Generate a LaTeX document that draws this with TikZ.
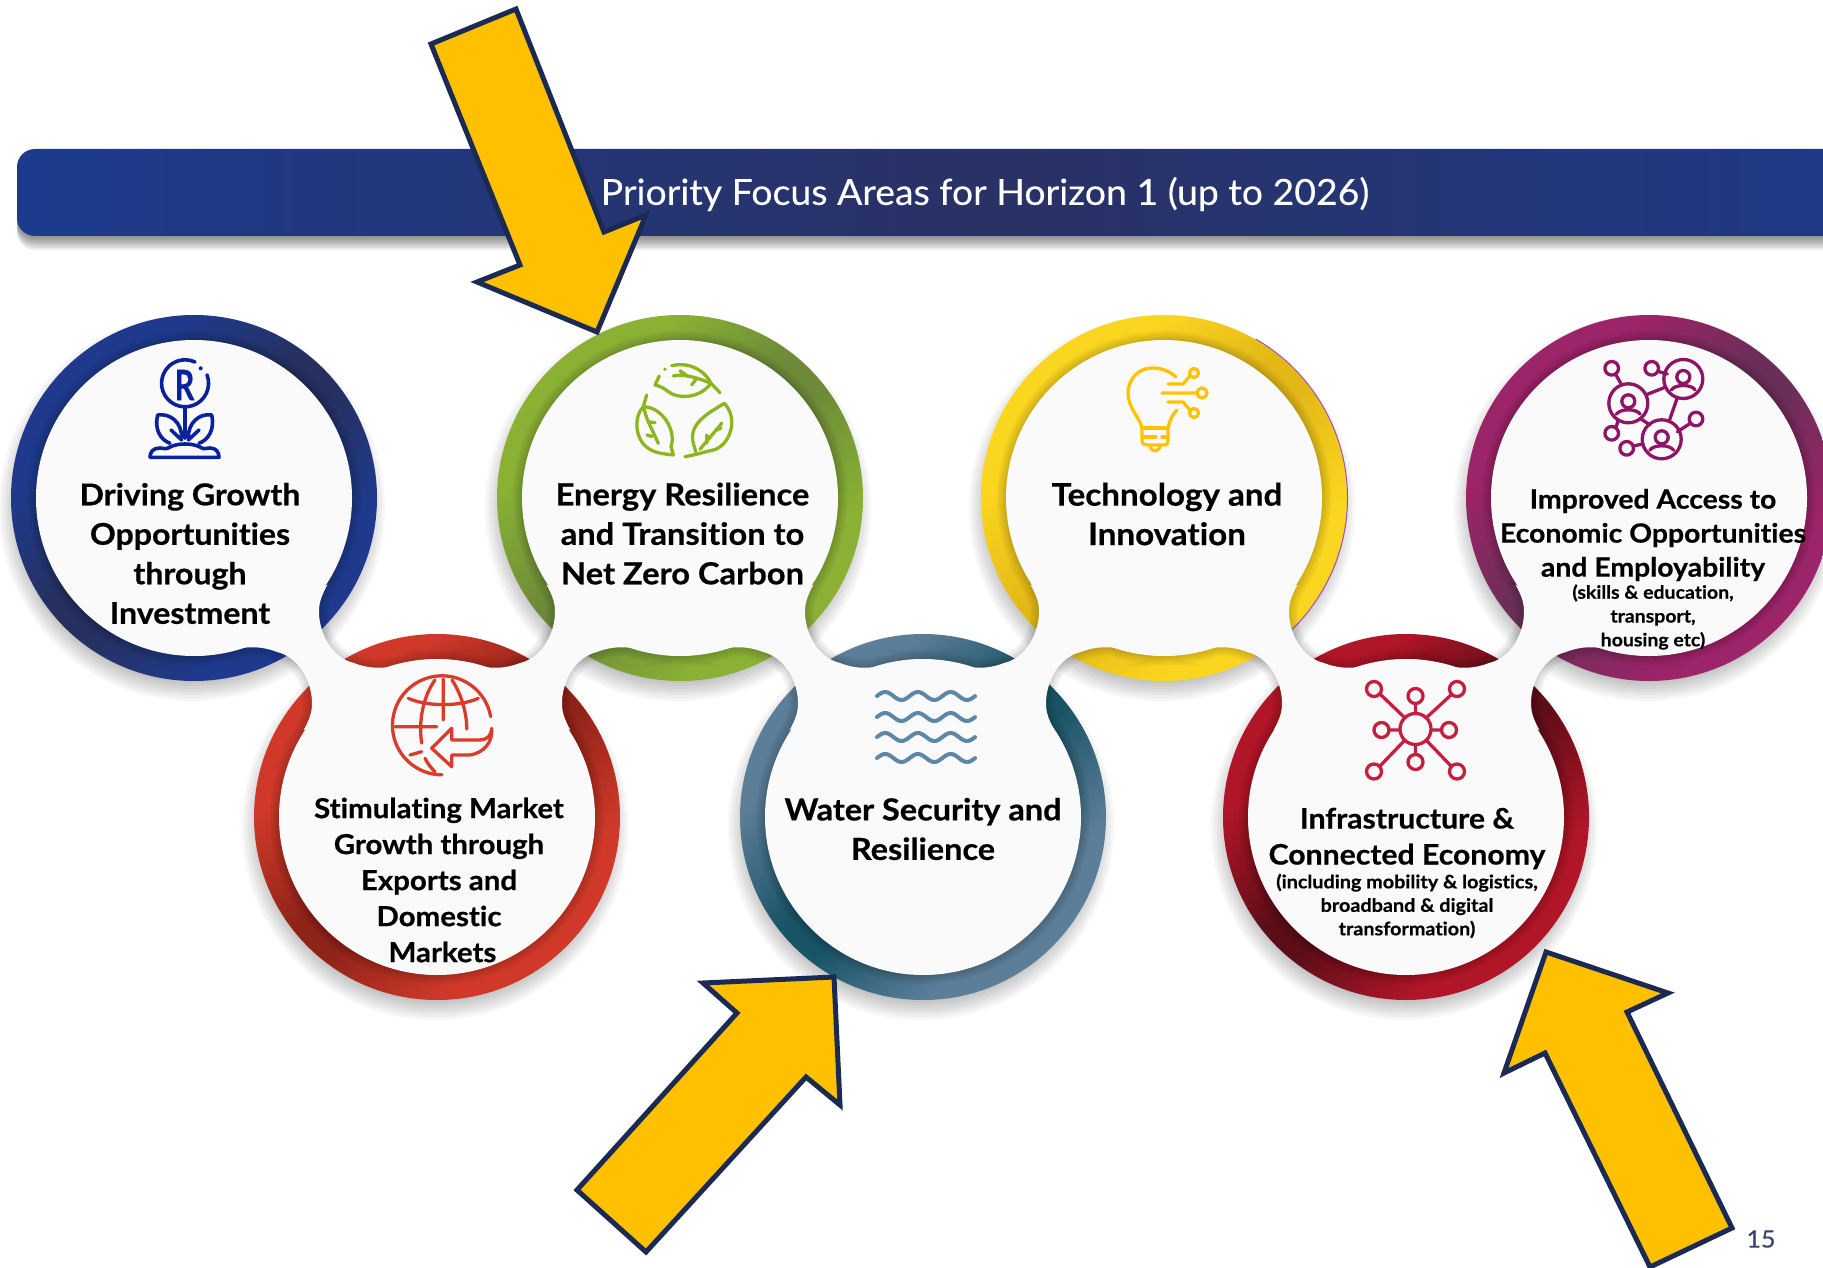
\documentclass[tikz,border=0pt]{standalone}
\usepackage{graphicx}
\usepackage{fontspec}
\setmainfont{Lato}[FakeStretch=1.04,FakeBold=0.2,Ligatures=NoCommon,BoldFeatures={FakeStretch=1.07,FakeBold=0.55,Ligatures=NoCommon}]
\definecolor{cBlueA}{HTML}{1F3A8C}\definecolor{cBlueB}{HTML}{26305F}
\definecolor{cRedA}{HTML}{D0392A}\definecolor{cRedB}{HTML}{8E2318}
\definecolor{cGreenA}{HTML}{8AB034}\definecolor{cGreenB}{HTML}{6C8A38}
\definecolor{cTealA}{HTML}{5C7E98}\definecolor{cTealB}{HTML}{195366}
\definecolor{cYelA}{HTML}{FBD620}\definecolor{cYelB}{HTML}{E3B816}
\definecolor{cCrimA}{HTML}{B01528}\definecolor{cCrimB}{HTML}{5C0E18}
\definecolor{cPurpA}{HTML}{9C2468}\definecolor{cPurpB}{HTML}{6A2F58}
\definecolor{barA}{HTML}{1D3B8D}\definecolor{barB}{HTML}{2A3164}
\definecolor{blobc}{HTML}{FAFAFA}
\definecolor{arrowfill}{HTML}{FFC000}\definecolor{arrowline}{HTML}{1B2A52}
\definecolor{icBlue}{HTML}{0A219C}\definecolor{icRed}{HTML}{DB3B2B}
\definecolor{icGreen}{HTML}{8DB51E}\definecolor{icWater}{HTML}{5E87A6}
\definecolor{icYel}{HTML}{FDC300}\definecolor{icCrim}{HTML}{C41F3E}
\definecolor{icPurp}{HTML}{8E1565}\definecolor{pageno}{HTML}{3A4070}
\pgfdeclarehorizontalshading{ringBlue}{100bp}{color(0bp)=(cBlueA);color(32bp)=(cBlueA);color(47bp)=(cBlueB);color(53bp)=(cBlueB);color(68bp)=(cBlueA);color(100bp)=(cBlueA)}
\pgfdeclarehorizontalshading{ringRed}{100bp}{color(0bp)=(cRedA);color(32bp)=(cRedA);color(47bp)=(cRedB);color(53bp)=(cRedB);color(68bp)=(cRedA);color(100bp)=(cRedA)}
\pgfdeclarehorizontalshading{ringGreen}{100bp}{color(0bp)=(cGreenA);color(32bp)=(cGreenA);color(47bp)=(cGreenB);color(53bp)=(cGreenB);color(68bp)=(cGreenA);color(100bp)=(cGreenA)}
\pgfdeclarehorizontalshading{ringTeal}{100bp}{color(0bp)=(cTealA);color(32bp)=(cTealA);color(47bp)=(cTealB);color(53bp)=(cTealB);color(68bp)=(cTealA);color(100bp)=(cTealA)}
\pgfdeclarehorizontalshading{ringYel}{100bp}{color(0bp)=(cYelA);color(32bp)=(cYelA);color(47bp)=(cYelB);color(53bp)=(cYelB);color(68bp)=(cYelA);color(100bp)=(cYelA)}
\pgfdeclarehorizontalshading{ringCrim}{100bp}{color(0bp)=(cCrimA);color(32bp)=(cCrimA);color(47bp)=(cCrimB);color(53bp)=(cCrimB);color(68bp)=(cCrimA);color(100bp)=(cCrimA)}
\pgfdeclarehorizontalshading{ringPurp}{100bp}{color(0bp)=(cPurpA);color(32bp)=(cPurpA);color(47bp)=(cPurpB);color(53bp)=(cPurpB);color(68bp)=(cPurpA);color(100bp)=(cPurpA)}
% neck between an upper circle (#1,#2) and the lower one, #3 = +1 to the right, -1 to the left
\def\neckp#1#2#3{(#1+#3*133.5,#2+86.7) .. controls (#1+#3*126,#2+100) and (#1+#3*125,#2+107) .. (#1+#3*125,#2+114)
 .. controls (#1+#3*125,#2+135) and (#1+#3*138,#2+160) .. (#1+#3*160,#2+165)
 .. controls (#1+#3*175,#2+171) and (#1+#3*190,#2+171) .. (#1+#3*205,#2+167)
 .. controls (#1+#3*218,#2+164) and (#1+#3*230,#2+161) .. (#1+#3*243,#2+161)
 -- (#1+#3*109.5,#2+232.3)
 .. controls (#1+#3*117,#2+219) and (#1+#3*118,#2+212) .. (#1+#3*118,#2+205)
 .. controls (#1+#3*118,#2+184) and (#1+#3*105,#2+159) .. (#1+#3*83,#2+154)
 .. controls (#1+#3*68,#2+148) and (#1+#3*53,#2+148) .. (#1+#3*38,#2+152)
 .. controls (#1+#3*25,#2+155) and (#1+#3*13,#2+158) .. (#1,#2+158) -- cycle}
\tikzset{
  x=1pt,y=-1pt,
  bigarrow/.style={fill=arrowfill,draw=arrowline,line width=5pt,miter limit=10},
  ico/.style={line width=3.3pt,line cap=round,line join=round,fill=none},
  lbl/.style={align=center,inner sep=0pt,text=black,font=\bfseries},
}
\newcommand\personicon[2]{
  \draw[ico,icPurp] (#1,#2) circle[radius=19.5];
  \draw[ico,icPurp] (#1,#2-2) circle[radius=6.5];
  \draw[ico,icPurp] (#1-12,#2+11) .. controls (#1-8,#2+5) and (#1+8,#2+5) .. (#1+12,#2+11);
}
\begin{document}
\begin{tikzpicture}
\useasboundingbox (0,0) rectangle (1823,1268);
\clip (0,0) rectangle (1823,1268);
\fill[white] (0,0) rectangle (1823,1268);
% title bar
\foreach \d in {2,4,...,14}{\fill[black,opacity=.07,rounded corners=18pt] (17,190) rectangle (1983,236+\d);}
\shade[rounded corners=18pt,left color=barA,right color=barA,middle color=barB] (17,149) rectangle (1983,236);
\node[inner sep=0pt,text=white,font=\fontsize{36}{40}\selectfont] (title) at (985,194) {Priority Focus Areas for Horizon 1 (up to 2026)};
% ring shadows
\foreach \cx/\cy in {194/498,437/817,680/498,923/817,1164/498,1406/817,1649/498}{
  \foreach \r in {172,175,...,193}{\fill[black,opacity=.035] (\cx-2,\cy+10) circle[radius=\r];}
}
% rings
\foreach \cx/\cy/\s in {194/498/ringBlue,437/817/ringRed,680/498/ringGreen,923/817/ringTeal,1164/498/ringYel,1406/817/ringCrim,1649/498/ringPurp}{
  \shade[shading=\s,shading angle=-45] (\cx,\cy) circle[radius=183];
}
\draw[violet!70,line width=1pt] (1164,498) ++(-60:183.5) arc[start angle=-60,end angle=48,radius=183.5];
% soft shadow of the white shape
\foreach \w in {18,14,10,6,3}{
\draw[black,opacity=.035,line width=\w pt] (194,498) circle[radius=158] (437,817) circle[radius=158] (680,498) circle[radius=158] (923,817) circle[radius=158] (1164,498) circle[radius=158] (1406,817) circle[radius=158] (1649,498) circle[radius=158]
 \neckp{194}{498}{1} \neckp{680}{498}{-1} \neckp{680}{498}{1} \neckp{1164}{498}{-1} \neckp{1164}{498}{1} \neckp{1649}{498}{-1};
}
% white shape
\foreach \cx/\cy in {194/498,437/817,680/498,923/817,1164/498,1406/817,1649/498}{\fill[blobc] (\cx,\cy) circle[radius=158];}
\fill[blobc] \neckp{194}{498}{1};
\fill[blobc] \neckp{680}{498}{-1};
\fill[blobc] \neckp{680}{498}{1};
\fill[blobc] \neckp{1164}{498}{-1};
\fill[blobc] \neckp{1164}{498}{1};
\fill[blobc] \neckp{1649}{498}{-1};
% icon: plant
\begin{scope}[ico/.append style={line width=3.6pt}]
\draw[ico,icBlue] (195,362) arc[start angle=-65,end angle=-381,radius=23.5];
\fill[icBlue] (200.7,368.3) circle[radius=2];
\node[inner sep=0pt,text=icBlue,font=\fontsize{42}{44}\selectfont\bfseries] (rmark) at (184.5,385) {\scalebox{.68}[1]{R}};
\draw[ico,icBlue] (185,408) -- (185,438);
\draw[ico,icBlue] (181.7,437.3) .. controls (181.7,423) and (171,413) .. (157.7,415) .. controls (154,430) and (161,440) .. (170,443.3);
\draw[ico,icBlue] (188.3,437.3) .. controls (188.3,423) and (199,413) .. (211.7,415) .. controls (215,430) and (208,440) .. (199,443.3);
\draw[ico,icBlue] (171,430) -- (181.7,440) (199,430) -- (188.3,440);
\draw[ico,icBlue] (150,457.3) -- (219,457.3) .. controls (219,452) and (216,448) .. (210,448) .. controls (206,448) and (204,450) .. (200,447) .. controls (192,443) and (178,443) .. (170,447) .. controls (166,450) and (163,448) .. (160,448) .. controls (153,448) and (150,452) .. (150,457.3);
\end{scope}
% icon: globe
\draw[ico,icRed] (490.7,716.7) arc[start angle=-10,end angle=-270,radius=49.5];
\draw[ico,icRed] (443.3,679) -- (443.3,720) (435,680) .. controls (424,695) and (418,720) .. (421.7,743) (452,680) .. controls (462,695) and (467,715) .. (466.7,729) (425,758.3) .. controls (428,764) and (431,768) .. (435,771.7);
\draw[ico,icRed] (408.3,698.3) .. controls (426.7,706.7) and (460,706.7) .. (478.3,698.3) (395,726.7) -- (436.7,726.7) (410,755) -- (421.7,751.7);
\draw[ico,icRed] (431.7,748.3) -- (451.7,728.3) -- (451.7,740) -- (480,740) .. controls (487,740) and (491.7,735) .. (491.7,728.3) .. controls (493,743) and (483,753) .. (470,755) -- (451.7,755) -- (451.7,766.7) -- cycle;
% icon: leaves
\draw[ico,icGreen] (659.3,376) -- (655,385) .. controls (660,386) and (664.3,388.3) .. (668.3,391.7) .. controls (676.7,398.3) and (698.3,400) .. (711,383.3);
\draw[ico,icGreen] (671.7,365.7) .. controls (686.7,361.7) and (703.3,368.3) .. (711,383.3) -- (720,392.7);
\fill[icGreen] (665,369.3) circle[radius=1.9];
\draw[ico,icGreen] (673.3,376) .. controls (681.7,374) and (693.3,376) .. (711,383.3) (680,370.7) -- (688.3,376.7) (691.7,385) -- (696.7,378.3);
\draw[ico,icGreen] (646.7,395) -- (643.3,406.7) .. controls (633.3,416.7) and (635,440) .. (648.3,448.3) .. controls (655,453.3) and (665,454) .. (673.3,455) -- (671,446.7) .. controls (676.7,430) and (661.7,406.7) .. (643.3,406.7);
\draw[ico,icGreen] (643.3,406.7) .. controls (645,412) and (646,417) .. (648.3,421.7) -- (658.3,443.3) (648.3,421.7) -- (655,422.7) (647,435) -- (652,436.5);
\draw[ico,icGreen] (724.3,403.3) .. controls (740,420) and (728.3,446.7) .. (713.3,450) .. controls (705,451.7) and (695,455) .. (685,456.7);
\draw[ico,icGreen] (724.3,403.3) .. controls (708.3,413.3) and (688.3,423.3) .. (693.3,443.3) -- (695.7,451.7);
\draw[ico,icGreen] (700,449.3) -- (721.7,423.3) (710,438) -- (706.7,436) (707,443) -- (706.7,435) (715,431) -- (721,428);
% icon: waves
\foreach \yy in {696,717,737,758}{\draw[ico,icWater,line width=4pt] plot[domain=877:975,samples=70,smooth] (\x,{\yy-4*sin(11*(\x-877))});}
% icon: bulb
\draw[ico,icYel] (1176,377) .. controls (1168,370) and (1160,368) .. (1152,368) .. controls (1138,368) and (1128,380) .. (1128,393) .. controls (1128,408) and (1140,418) .. (1142,428) -- (1142,440) .. controls (1142,444) and (1144,445) .. (1147,445) -- (1165,445) .. controls (1167,445) and (1168,444) .. (1168,440) -- (1168,428) .. controls (1170,420) and (1172,415) .. (1177,410);
\draw[ico,icYel] (1142,428) -- (1168,428) (1143,437) -- (1156,437) (1162,437) -- (1168,437);
\draw[ico,icYel] (1150,447) .. controls (1152,452) and (1158,452) .. (1160,447);
\draw[ico,icYel] (1168,384) -- (1183,384) -- (1190,376) (1162,393) -- (1197,393) (1168,402) -- (1183,402) -- (1190,410);
\draw[ico,icYel] (1194,373) circle[radius=4.5] (1202,393) circle[radius=5] (1194,413) circle[radius=4.5];
% icon: hub
\draw[ico,icCrim] (1415.5,729) circle[radius=15.5];
\foreach \px/\py in {1374/689,1457/689,1374/771.5,1457/771.5,1415.5/696,1415.5/762,1381.5/730,1449/730}{
  \draw[ico,icCrim] (\px,\py) circle[radius=7.5];
}
\draw[ico,icCrim] (1380,694) -- (1405,718) (1451,695) -- (1426,718) (1380,766) -- (1405,740) (1451,766) -- (1426,740) (1415.5,704) -- (1415.5,713) (1415.5,745) -- (1415.5,754) (1389,730) -- (1400,730) (1431,730) -- (1441,730);
% icon: people network
\draw[ico,icPurp] (1616,375) -- (1621.7,385) (1659.3,371.7) -- (1667.3,374) (1647.3,394.3) -- (1665,387.3) (1677.3,397.7) -- (1669.3,420.7) (1689.3,424) -- (1677.3,431.7) (1640,418.3) -- (1650,425) (1616,427.3) -- (1618.3,420) (1633.3,446) -- (1642.7,444);
\personicon{1628.3}{403.3}
\personicon{1683.3}{379}
\personicon{1661.7}{439.3}
\foreach \px/\py in {1611.7/368.3,1651.7/368.3,1696/419,1611.7/433.3,1626.7/448.3}{\draw[ico,icPurp] (\px,\py) circle[radius=6.8];}
% labels
\node[lbl,font=\fontsize{30}{39.5}\selectfont\bfseries] (t1) at (190,553.5) {Driving Growth\\Opportunities\\through\\Investment};
\node[lbl,font=\fontsize{27.5}{36}\selectfont\bfseries] (t2) at (439,880) {Stimulating Market\\Growth through\\Exports and\\Domestic\\\hspace*{7pt}Markets};
\node[lbl,font=\fontsize{30.5}{39.5}\selectfont\bfseries] (t3) at (682.5,533.6) {Energy Resilience\\and Transition to\\Net Zero Carbon};
\node[lbl,font=\fontsize{30.3}{39.5}\selectfont\bfseries] (t4) at (923,829) {Water Security and\\Resilience};
\node[lbl,font=\fontsize{31}{39.5}\selectfont\bfseries] (t5) at (1167,514) {Technology and\\Innovation};
\node[lbl,font=\fontsize{28.2}{36}\selectfont\bfseries] (t6) at (1407,838.5) {Infrastructure \&\\Connected Economy};
\node[lbl,font=\fontsize{18.5}{23.5}\selectfont\bfseries] (t6s) at (1407,906) {(including mobility \& logistics,\\broadband \& digital\\transformation)};
\node[lbl,font=\fontsize{26.5}{34}\selectfont\bfseries] (t7) at (1653,535) {Improved Access to\\Economic Opportunities\\and Employability};
\node[lbl,font=\fontsize{18.2}{23.8}\selectfont\bfseries] (t7s) at (1653,617) {(skills \& education,\\transport,\\housing etc)};
% arrows
\draw[bigarrow] (516,9) -- (604,232) -- (646,215) -- (597,332) -- (477,282) -- (520,265) -- (431,44) -- cycle;
\draw[bigarrow] (834,977) -- (703,983) -- (737,1013) -- (577,1190) -- (646,1252) -- (806,1077) -- (840,1105) -- cycle;
\draw[bigarrow] (1546,952) -- (1668,993) -- (1627,1012) -- (1732,1228) -- (1650,1267) -- (1545,1053) -- (1504,1073) -- cycle;
\node[inner sep=0pt,text=pageno,font=\fontsize{24}{26}\selectfont] (pg) at (1761,1239) {15};
\end{tikzpicture}
\end{document}
